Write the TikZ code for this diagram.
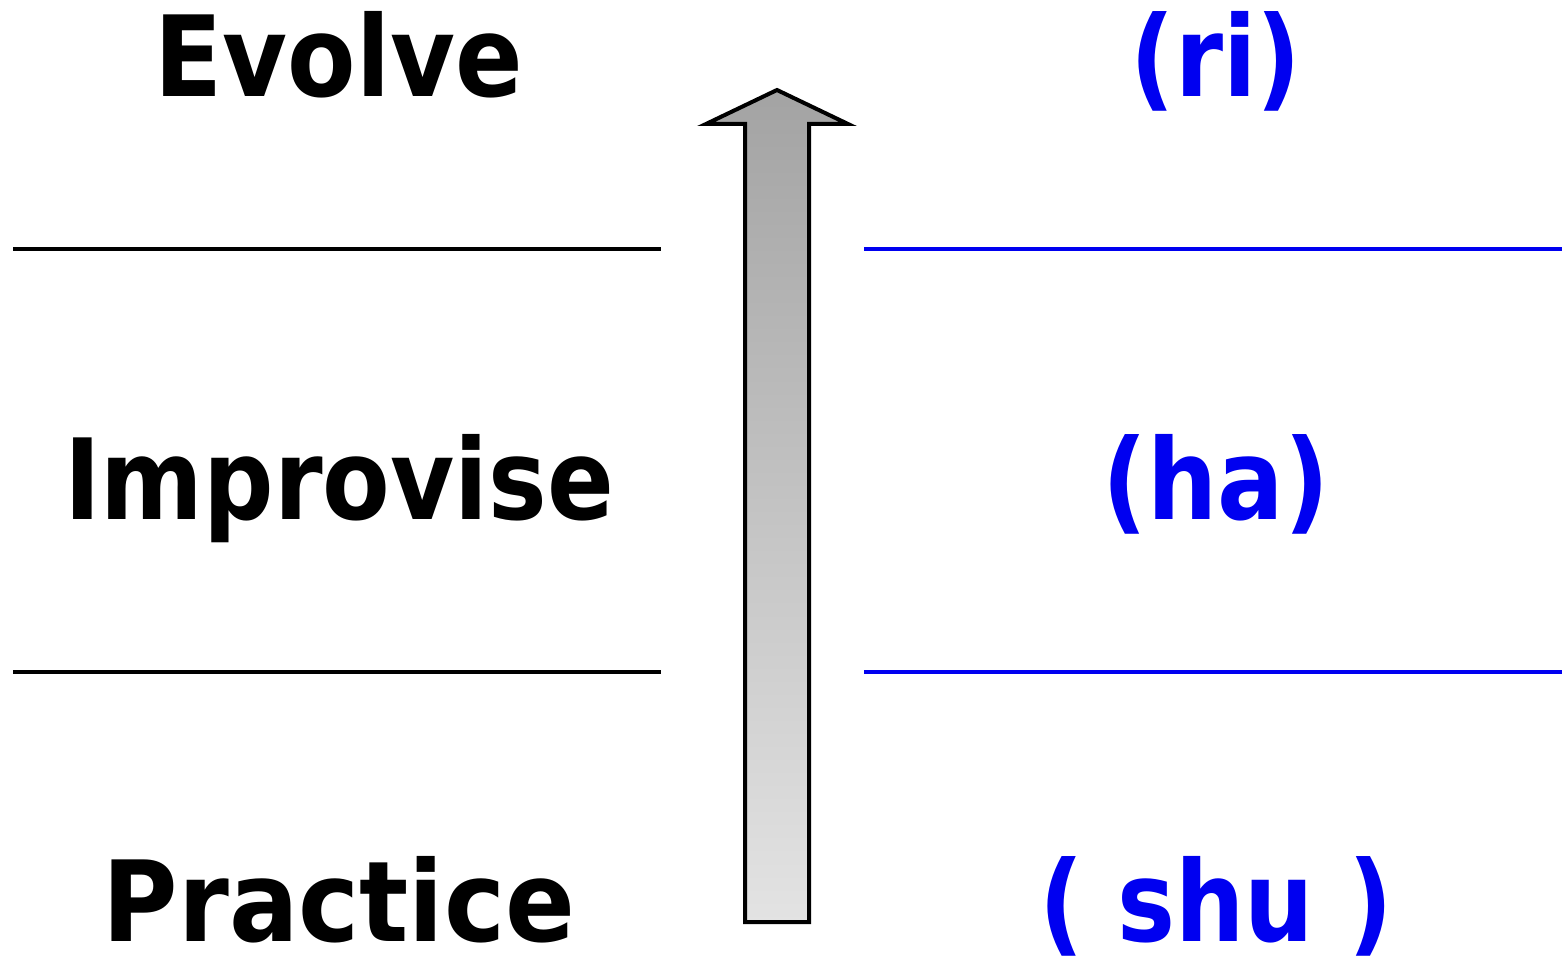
\documentclass[tikz,border=0pt]{standalone}
\usepackage{fontspec}
\usepackage{graphicx}
\setmainfont{DejaVu Sans}
\definecolor{lvblue}{RGB}{0,0,240}
\begin{document}
\begin{tikzpicture}[x=1pt,y=-1pt,
  level/.style={anchor=base,inner sep=0pt,font=\fontsize{112}{120}\selectfont\bfseries},
  rule/.style={line width=4pt},
  bluerule/.style={rule,draw=lvblue},
  jp/.style={level,text=lvblue}]
\useasboundingbox (0,0) rectangle (1562,968);

% English stage names
\node[level] (evolve) at (339,97) {\scalebox{0.89}[1]{Evolve}};
\node[level] (improvise) at (339,519) {\scalebox{0.88}[1]{Improvise}};
\node[level] (practice) at (339,941) {\scalebox{0.92}[1]{Practice}};

% Japanese stage names
\node[jp] (ri) at (1216,97) {\scalebox{0.87}[1]{(ri)}};
\node[jp] (ha) at (1216,519) {\scalebox{0.88}[1]{(ha)}};
\node[jp] (shu) at (1216,941) {\scalebox{0.87}[1]{( shu )}};

% separators
\coordinate (l1a) at (13,249);  \coordinate (l1b) at (661,249);
\coordinate (l2a) at (13,672);  \coordinate (l2b) at (661,672);
\coordinate (r1a) at (864,249); \coordinate (r1b) at (1562,249);
\coordinate (r2a) at (864,672); \coordinate (r2b) at (1562,672);
\draw[rule] (l1a) -- (l1b);
\draw[rule] (l2a) -- (l2b);
\draw[bluerule] (r1a) -- (r1b);
\draw[bluerule] (r2a) -- (r2b);

% progression arrow
\draw[line width=4pt,line join=miter,top color=black!36,bottom color=black!11]
  (745,922) -- (745,124) -- (706,124) -- (777,90) -- (848,124)
  -- (809,124) -- (809,922) -- cycle;
\end{tikzpicture}
\end{document}
